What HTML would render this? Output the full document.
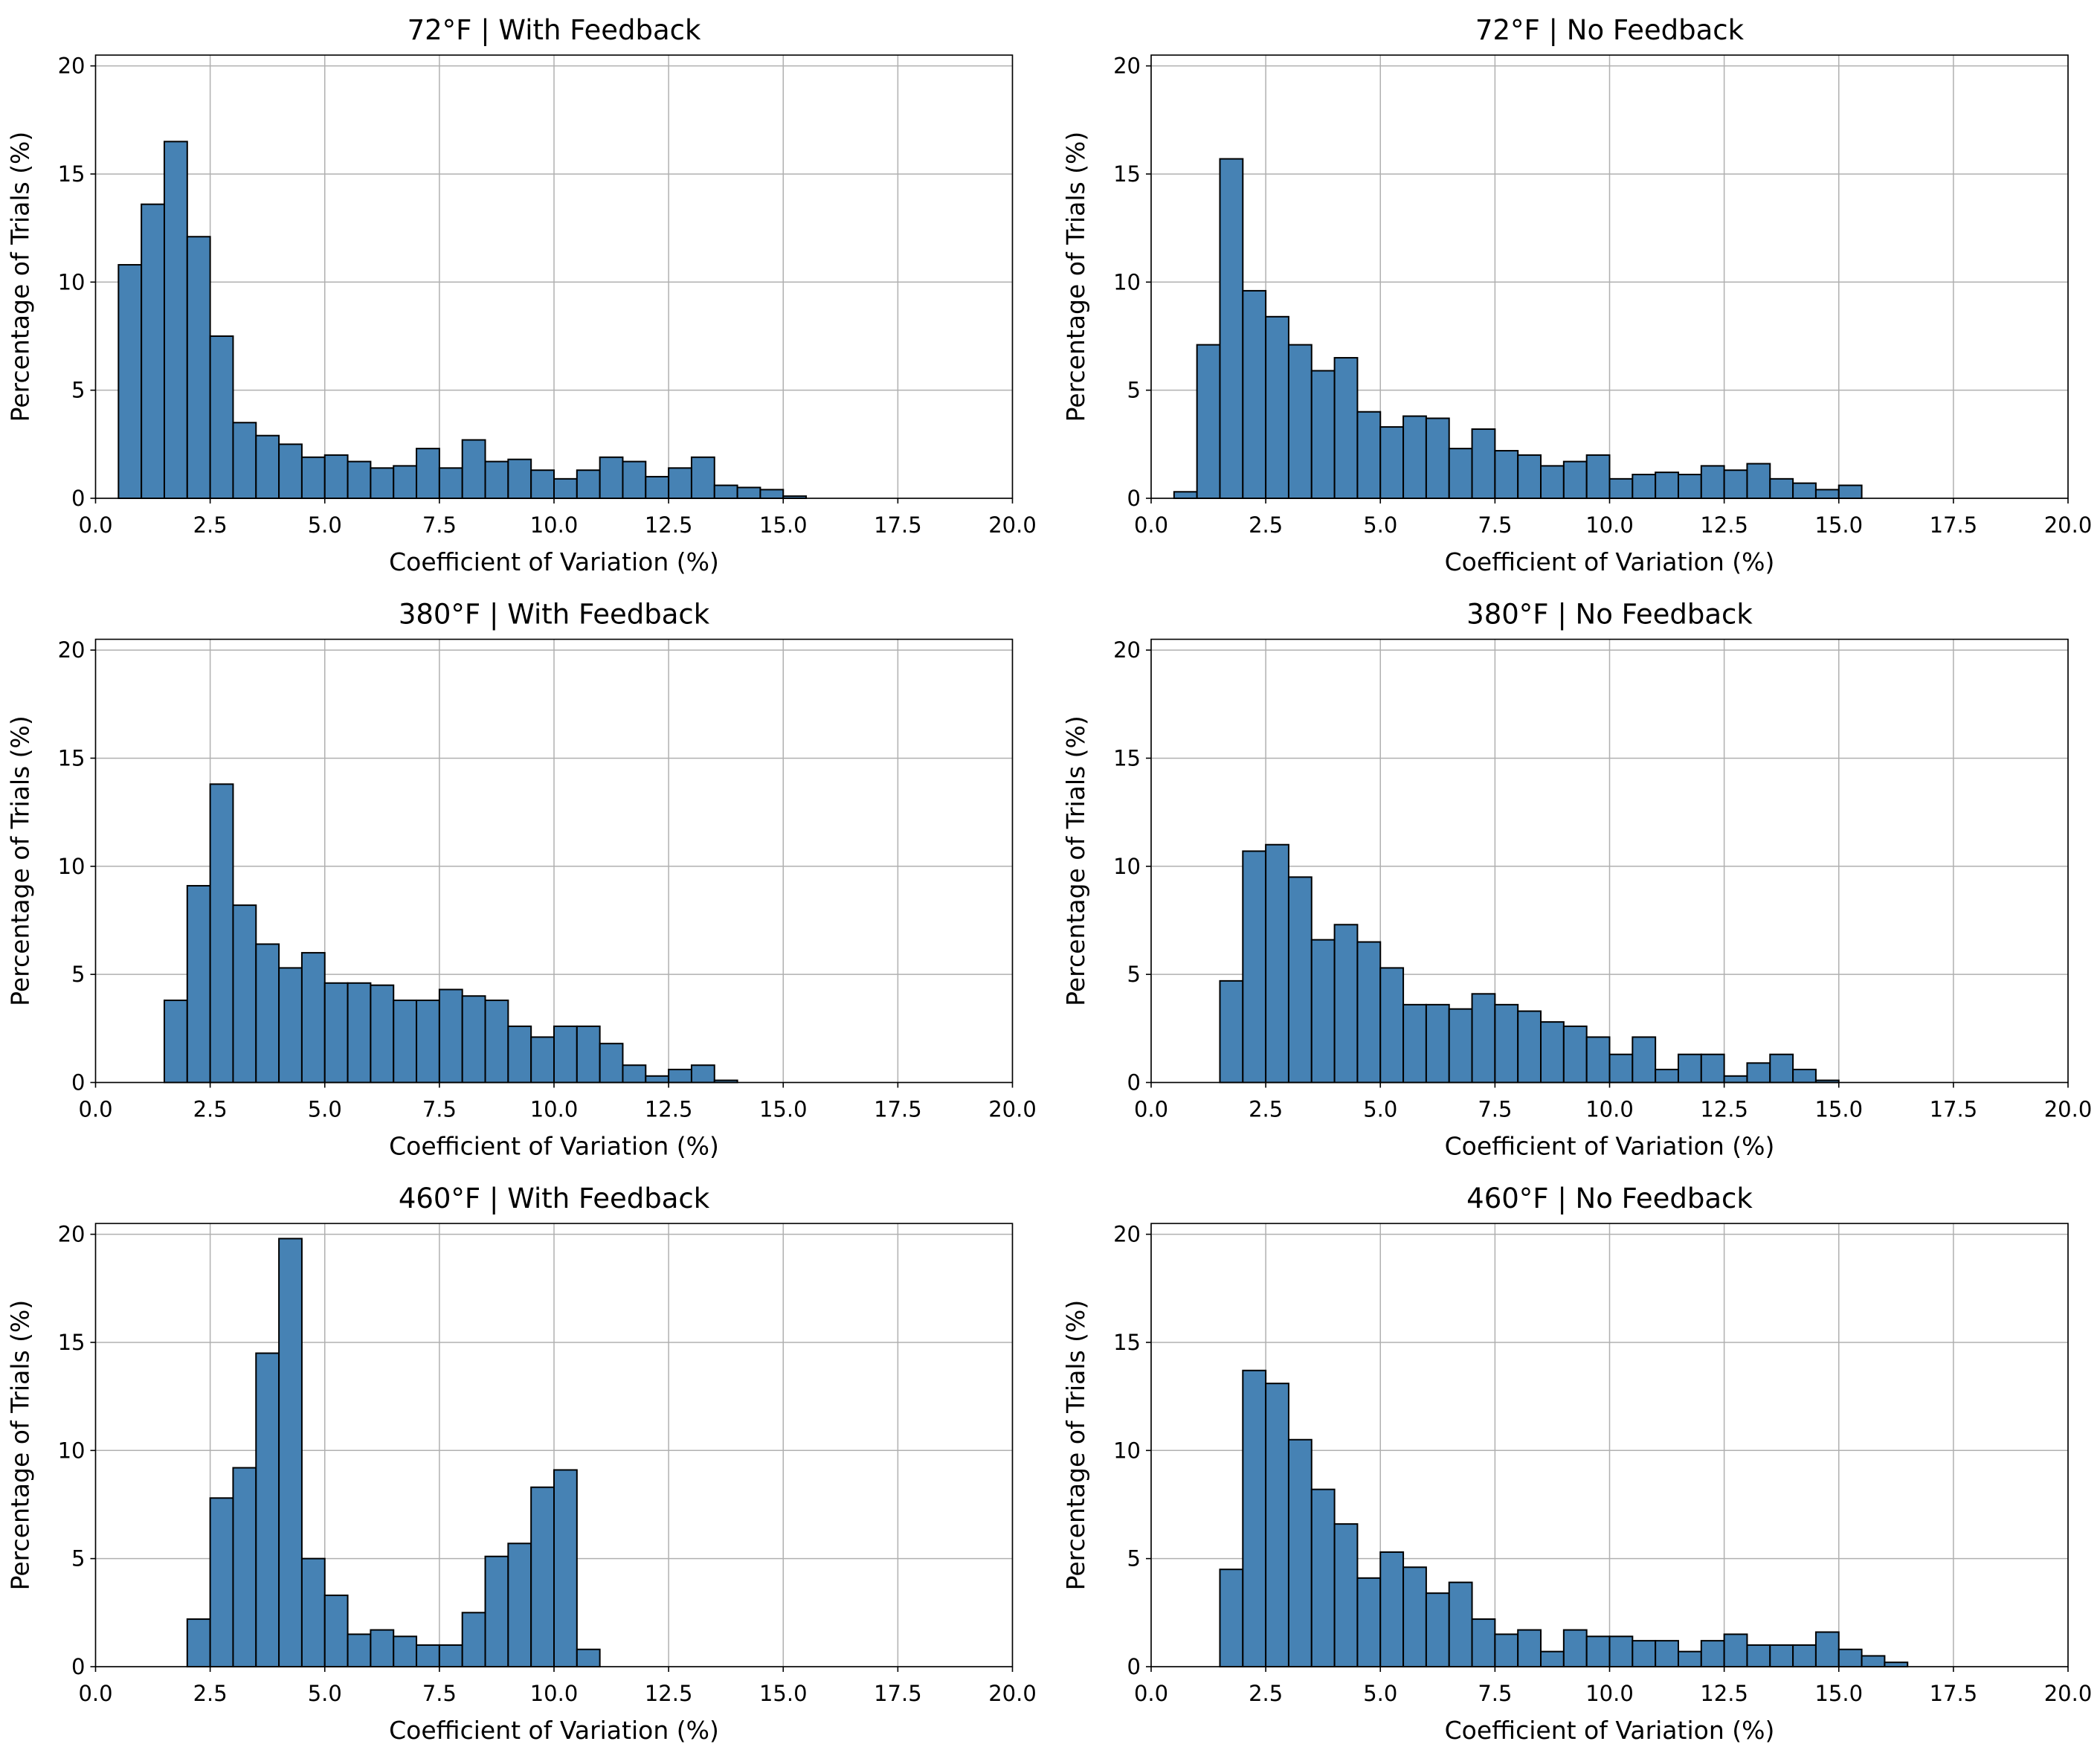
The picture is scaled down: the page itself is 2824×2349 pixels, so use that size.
<!DOCTYPE html>
<html><head><meta charset="utf-8"><style>
html,body{margin:0;padding:0;background:#fff}
svg text{font-family:"DejaVu Sans","Liberation Sans",sans-serif;fill:#000}
</style></head>
<body>
<svg id="fig" width="2824" height="2344" viewBox="0 0 2824 2344" xmlns="http://www.w3.org/2000/svg"></svg>
<script>
const titles = ["72°F | With Feedback","72°F | No Feedback","380°F | With Feedback","380°F | No Feedback","460°F | With Feedback","460°F | No Feedback"];
const binStarts = [0.5, 0.5, 1.5, 1.5, 2.0, 1.5];
const binWidth = 0.5;
const vals72WF = [10.8,13.6,16.5,12.1,7.5,3.5,2.9,2.5,1.9,2.0,1.7,1.4,1.5,2.3,1.4,2.7,1.7,1.8,1.3,0.9,1.3,1.9,1.7,1.0,1.4,1.9,0.6,0.5,0.4,0.1];
const vals72NF = [0.3,7.1,15.7,9.6,8.4,7.1,5.9,6.5,4.0,3.3,3.8,3.7,2.3,3.2,2.2,2.0,1.5,1.7,2.0,0.9,1.1,1.2,1.1,1.5,1.3,1.6,0.9,0.7,0.4,0.6];
const vals380WF = [3.8,9.1,13.8,8.2,6.4,5.3,6.0,4.6,4.6,4.5,3.8,3.8,4.3,4.0,3.8,2.6,2.1,2.6,2.6,1.8,0.8,0.3,0.6,0.8,0.1];
const vals380NF = [4.7,10.7,11.0,9.5,6.6,7.3,6.5,5.3,3.6,3.6,3.4,4.1,3.6,3.3,2.8,2.6,2.1,1.3,2.1,0.6,1.3,1.3,0.3,0.9,1.3,0.6,0.1];
const vals460WF = [2.2,7.8,9.2,14.5,19.8,5.0,3.3,1.5,1.7,1.4,1.0,1.0,2.5,5.1,5.7,8.3,9.1,0.8];
const vals460NF = [4.5,13.7,13.1,10.5,8.2,6.6,4.1,5.3,4.6,3.4,3.9,2.2,1.5,1.7,0.7,1.7,1.4,1.4,1.2,1.2,0.7,1.2,1.5,1.0,1.0,1.0,1.6,0.8,0.5,0.2];
const xTicks = [0,2.5,5,7.5,10,12.5,15,17.5,20];
const xTickLabels = ["0.0","2.5","5.0","7.5","10.0","12.5","15.0","17.5","20.0"];
const yTicks = [0,5,10,15,20];
const yTickLabels = ["0","5","10","15","20"];

const series = [vals72WF, vals72NF, vals380WF, vals380NF, vals460WF, vals460NF];
const NS = "http://www.w3.org/2000/svg";
const fig = document.getElementById('fig');
const colsX = [128.5, 1548];
const plotW = 1233;
const rowsBase = [670, 1455.5, 2241];
const pxPerY = 29.07;
const yMax = 20.5;
function mk(tag, attrs, parent){const e=document.createElementNS(NS,tag);for(const k in attrs)e.setAttribute(k,attrs[k]);parent.appendChild(e);return e;}

series.forEach((vals, i) => {
  const left = colsX[i%2], base = rowsBase[Math.floor(i/2)];
  const top = base - yMax*pxPerY;
  const xs = v => left + v/20*plotW;
  const ys = v => base - v*pxPerY;
  const g = mk('g', {}, fig);
  
  
  xTicks.forEach(t => {
    const l = mk('line', {x1:xs(t),x2:xs(t),y1:top,y2:base,stroke:'#b0b0b0','stroke-width':1.5}, g);
    
    
  });
  yTicks.forEach(t => {
    const l = mk('line', {x1:left,x2:left+plotW,y1:ys(t),y2:ys(t),stroke:'#b0b0b0','stroke-width':1.5}, g);
    
    
  });
  vals.forEach((v, j) => {
    const x0 = binStarts[i] + j*binWidth;
    const r = mk('rect', {x:xs(x0), y:ys(v), width:xs(x0+binWidth)-xs(x0), height:base-ys(v), fill:'#4682b4', stroke:'#000', 'stroke-width':2}, g);
    
    
  });
  const f = mk('rect', {x:left,y:top,width:plotW,height:base-top,fill:'none',stroke:'#000','stroke-width':1.6}, g);
  
  
  xTicks.forEach((t, k) => {
    mk('line', {x1:xs(t),x2:xs(t),y1:base,y2:base+7,stroke:'#000','stroke-width':1.6}, g);
    const tx = mk('text', {x:xs(t), y:base+46, 'text-anchor':'middle', 'font-size':29}, g);
    tx.textContent = xTickLabels[k];
    
    
  });
  yTicks.forEach((t, k) => {
    mk('line', {x1:left-7,x2:left,y1:ys(t),y2:ys(t),stroke:'#000','stroke-width':1.6}, g);
    const tx = mk('text', {x:left-14, y:ys(t)+10, 'text-anchor':'end', 'font-size':29}, g);
    tx.textContent = yTickLabels[k];
    
    
  });
  const title = mk('text', {x:left+plotW/2, y:top-21, 'text-anchor':'middle', 'font-size':37}, g);
  title.textContent = titles[i];
  
  
  const xl = mk('text', {x:left+plotW/2, y:base+97, 'text-anchor':'middle', 'font-size':33}, g);
  xl.textContent = 'Coefficient of Variation (%)';
  
  
  const cy = (top+base)/2;
  const yl = mk('text', {x:left-90, y:cy, 'text-anchor':'middle', 'font-size':33, transform:'rotate(-90 '+(left-90)+' '+cy+')'}, g);
  yl.textContent = 'Percentage of Trials (%)';
  
  
});
</script>
</body></html>
